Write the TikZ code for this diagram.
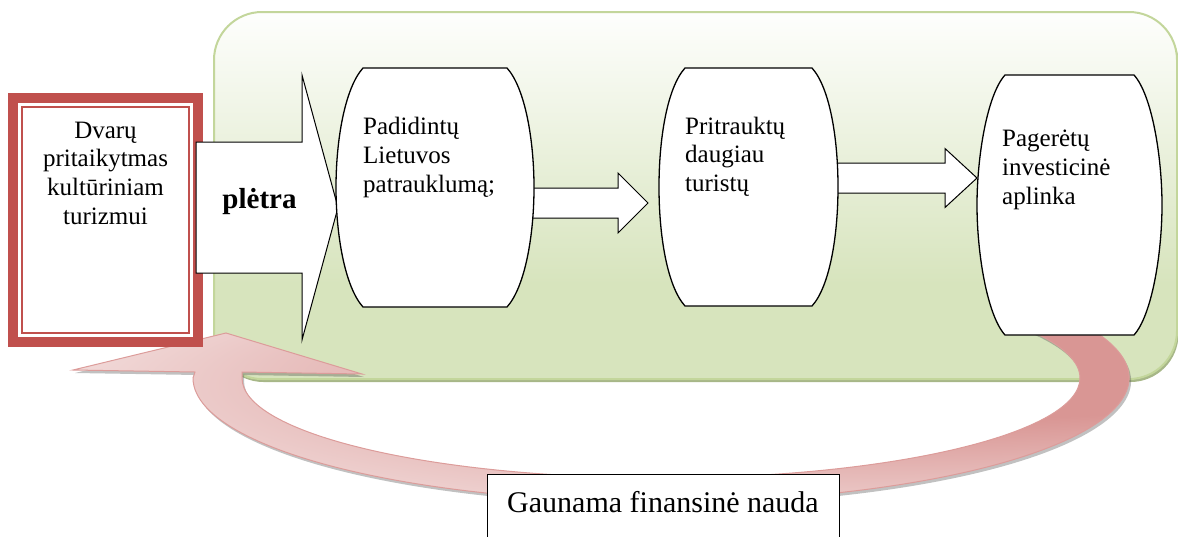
\documentclass[tikz,border=0pt]{standalone}
\usepackage{fontspec}
\setmainfont{Liberation Serif}
\usetikzlibrary{calc,positioning,shadows}
\definecolor{bggreen}{HTML}{D7E4BD}
\definecolor{bgline}{HTML}{C3D69B}
\definecolor{bgshadow}{HTML}{A7B788}
\colorlet{bgtop}{white!97!bggreen}
\definecolor{boxred}{HTML}{C0504D}
\definecolor{pinklight}{HTML}{F2DCDB}
\definecolor{pinkdark}{HTML}{D99694}
\definecolor{pinkline}{HTML}{DC9C9A}
\pgfdeclareverticalshading{bgfade}{100bp}{color(0bp)=(bggreen); color(38bp)=(bggreen); color(75bp)=(bgtop); color(100bp)=(bgtop)}
\pgfdeclareradialshading{loopshade}{\pgfpoint{22bp}{20bp}}{color(0bp)=(pinkdark); color(14bp)=(pinkdark); color(34bp)=(pinklight); color(50bp)=(pinklight)}

\newcommand{\drawbarrel}[2]{%
  \draw[barrelline] ([xshift=#2]#1.north west) -- ([xshift=-#2]#1.north east)
    .. controls +(18,20) and +(0,-48) .. (#1.east)
    .. controls +(0,48) and +(18,-20) .. ([xshift=-#2]#1.south east)
    -- ([xshift=#2]#1.south west)
    .. controls +(-18,-20) and +(0,48) .. (#1.west)
    .. controls +(0,-48) and +(-18,20) .. ([xshift=#2]#1.north west) -- cycle;
}
\newcommand{\blockarrow}[5]{%
  \draw[blockline] ($(#1)+(0,-#3)$) -- ($(#2)+(-#5,-#3)$) -- ($(#2)+(-#5,-#4)$) -- (#2)
    -- ($(#2)+(-#5,#4)$) -- ($(#2)+(-#5,#3)$) -- ($(#1)+(0,#3)$) -- cycle;
}

\begin{document}
\begin{tikzpicture}[
    x=1pt, y=-1pt,
    bgpanel/.style={rounded corners=48, draw=bgline, line width=2, shading=bgfade,
        drop shadow={shadow xshift=1.5pt, shadow yshift=-3pt, fill=bgshadow, opacity=1}},
    loopfill/.style={draw=pinkline, line width=1, shading=loopshade,
        drop shadow={shadow xshift=2pt, shadow yshift=-3pt, fill=black!70, opacity=.35}},
    redbox/.style={rectangle, draw=boxred, line width=10, fill=white, anchor=north west},
    barrel/.style={rectangle, inner sep=0pt, outer sep=0pt, anchor=north west},
    barrelline/.style={draw=black, line width=1.3, fill=white},
    blockline/.style={draw=black, line width=1, fill=white},
    bodytext/.style={inner sep=0pt, align=left, font=\fontsize{25}{28.8}\selectfont},
    gainbox/.style={rectangle, draw=black, line width=1, fill=white, anchor=north,
        minimum width=352, inner ysep=17, text height=21, text depth=60,
        font=\fontsize{30}{36}\selectfont}
]
\useasboundingbox (0,0) rectangle (1178,536);

\draw[bgpanel] (214,12) rectangle (1177,379);

\coordinate (loopc) at (661,378);
\path[loopfill] (loopc) ++(-28:468 and 124)
    arc[start angle=-28, end angle=180, x radius=468, y radius=124]
    -- (195,372) -- (73,370) -- (226,333) -- (362,374) -- (242,372)
    -- (242,378) arc[start angle=180, end angle=-28, x radius=419, y radius=100] -- cycle;

\node[redbox, minimum width=185, minimum height=244] (manor) at (8,93) {};
\draw[boxred, line width=2] ($(manor.north west)+(14,14)$) rectangle ($(manor.south east)+(-14,-14)$);
\node[bodytext, align=center, below=28.5pt of manor.north] (manortxt)
    {Dvarų\\pritaikytmas\\kultūriniam\\turizmui};

\coordinate (growtail) at (196,207.5);
\coordinate (growtip) at (338,207.5);
\blockarrow{growtail}{growtip}{65.5}{132.5}{36}
\node[font=\bfseries\fontsize{29}{34}\selectfont, anchor=base] (grow) at (259.5,208) {plėtra};

\coordinate (tail12) at (522,203);
\coordinate (tip12) at (648,203);
\blockarrow{tail12}{tip12}{15}{30}{30}
\coordinate (tail23) at (826,178);
\coordinate (tip23) at (977,178);
\blockarrow{tail23}{tip23}{15}{29.5}{32}

\node[barrel, minimum width=198, minimum height=239] (b1) at (336,68) {};
\node[barrel, minimum width=179, minimum height=238] (b2) at (659,68) {};
\node[barrel, minimum width=185, minimum height=260] (b3) at (977,75) {};
\drawbarrel{b1}{27}
\drawbarrel{b2}{26}
\drawbarrel{b3}{28}

\node[bodytext, below right=49pt and 27pt of b1.north west] (t1) {Padidintų\\Lietuvos\\patrauklumą;};
\node[bodytext, below right=48.5pt and 26pt of b2.north west] (t2) {Pritrauktų\\daugiau\\turistų};
\node[bodytext, below right=55pt and 25pt of b3.north west] (t3) {Pagerėtų\\investicinė\\aplinka};

\node[gainbox] (gain) at (663,473.5) {Gaunama finansinė nauda};
\end{tikzpicture}
\end{document}
